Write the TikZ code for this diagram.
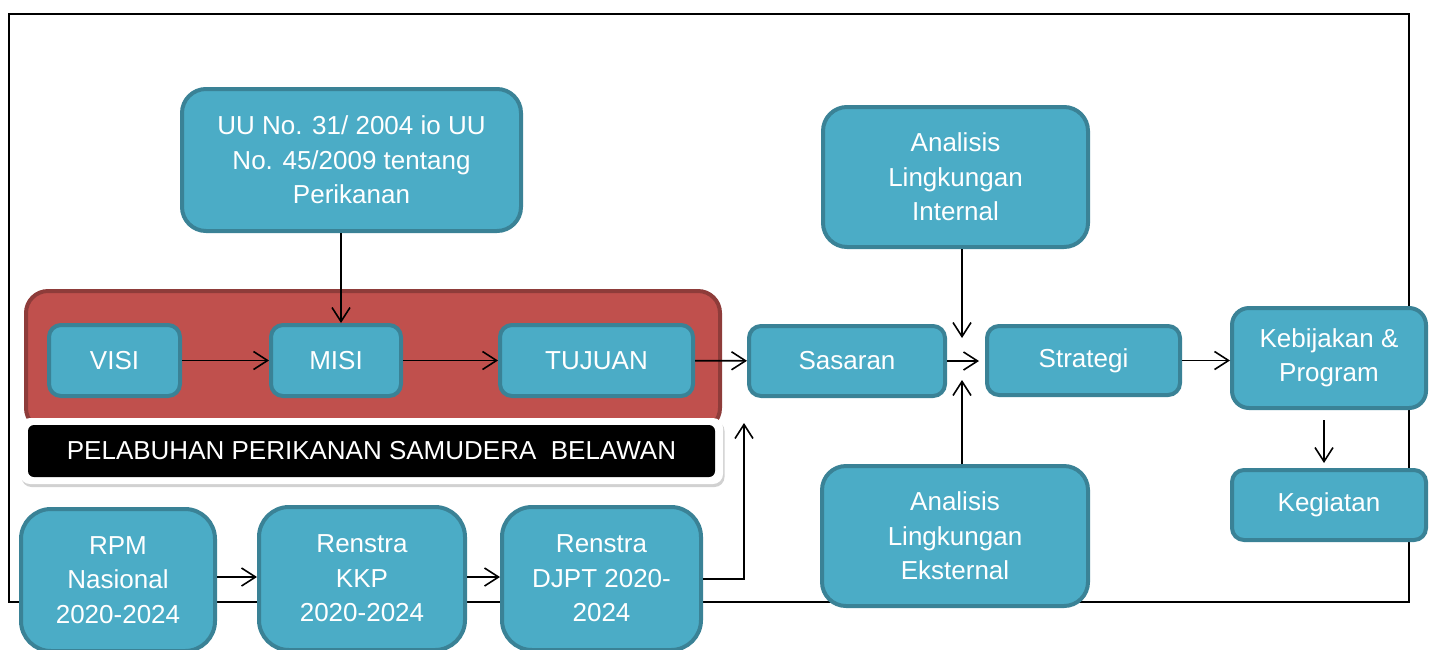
\documentclass[tikz,border=0pt]{standalone}
\usepackage{fontspec}
\setmainfont{Liberation Sans}
\usetikzlibrary{arrows.meta}
\definecolor{tealf}{HTML}{4BACC6}
\definecolor{tealb}{HTML}{3A8296}
\definecolor{redf}{HTML}{C0504D}
\definecolor{redb}{HTML}{8E3C3A}
\begin{document}
\begin{tikzpicture}[x=1pt,y=-1pt,
  box/.style={draw=tealb, fill=tealf, line width=4pt, text=white, align=center, inner sep=0pt, font=\fontsize{26}{34.5}\selectfont},
  arr/.style={line width=1.6pt, -{Straight Barb[length=14pt,width=18pt,line width=1.6pt]}}]
\useasboundingbox (0,0) rectangle (1431,649);
\clip (0,0) rectangle (1431,649);
% outer frame
\node[draw, line width=2pt, minimum width=1400pt, minimum height=588pt, inner sep=0pt] (frame) at (709,308) {};
% red group box
\node[draw=redb, fill=redf, line width=4pt, rounded corners=22pt, minimum width=694pt, minimum height=139pt, inner sep=0pt] (redbox) at (373,360.5) {};
% banner
\node[fill=black!18, rounded corners=10pt, minimum width=703pt, minimum height=66pt, inner sep=0pt] (bshadow) at (373,454) {};
\node[fill=white, rounded corners=10pt, minimum width=703pt, minimum height=66pt, inner sep=0pt] (bwhite) at (371.5,451) {};
\node[fill=black, rounded corners=6pt, minimum width=687pt, minimum height=52pt, inner sep=0pt, text=white, font=\fontsize{26}{30}\selectfont] (banner) at (371.5,451) {PELABUHAN PERIKANAN SAMUDERA\ \ BELAWAN};
% boxes
\node[box, rounded corners=24pt, minimum width=339pt, minimum height=142pt] (uu) at (351.5,160) {UU No. 31/ 2004 io UU\\No. 45/2009 tentang\\Perikanan};
\node[box, rounded corners=12pt, minimum width=131pt, minimum height=71pt] (visi) at (114.5,360.5) {VISI};
\node[box, rounded corners=12pt, minimum width=130pt, minimum height=71pt] (misi) at (336,360.5) {MISI};
\node[box, rounded corners=12pt, minimum width=193pt, minimum height=71pt] (tuj) at (596.5,360.5) {TUJUAN};
\node[box, rounded corners=12pt, minimum width=196pt, minimum height=70pt] (sas) at (847,361) {Sasaran};
\node[box, rounded corners=12pt, minimum width=193pt, minimum height=69pt] (strat) at (1083.5,360.5) {Strategi};
\node[box, rounded corners=24pt, minimum width=265pt, minimum height=140pt] (int) at (955.5,177) {Analisis\\Lingkungan\\Internal};
\node[box, rounded corners=24pt, minimum width=266pt, minimum height=140pt] (ext) at (955,536) {Analisis\\Lingkungan\\Eksternal};
\node[box, rounded corners=17pt, minimum width=194pt, minimum height=100pt] (keb) at (1329,358) {Kebijakan \&\\Program};
\node[box, rounded corners=12pt, minimum width=194pt, minimum height=70pt] (keg) at (1329,505) {Kegiatan};
\node[box, rounded corners=30pt, minimum width=194pt, minimum height=142pt] (rpm) at (118,580) {RPM\\Nasional\\2020-2024};
\node[box, rounded corners=30pt, minimum width=206pt, minimum height=143pt] (kkp) at (362,578.5) {Renstra\\KKP\\2020-2024};
\node[box, rounded corners=30pt, minimum width=199pt, minimum height=143pt] (djpt) at (601.5,578.5) {Renstra\\DJPT 2020-\\2024};
% helper coordinates
\coordinate (ux) at (341,0);
\coordinate (sin) at (979,361);
\coordinate (iend) at (962,338);
\coordinate (eend) at (962,380);
\coordinate (kx) at (1324,420);
\coordinate (ky) at (1324,463);
\coordinate (ry) at (0,577);
\coordinate (dy) at (0,579);
\coordinate (dup) at (744,423);
% connectors
\draw[arr] (uu.south -| ux) -- (misi.north -| ux);
\draw[arr] (visi) -- (misi);
\draw[arr] (misi) -- (tuj);
\draw[arr] (tuj) -- (sas);
\draw[arr] (sas.east) -- (sin);
\draw[arr] (int.south -| iend) -- (iend);
\draw[arr] (ext.north -| eend) -- (eend);
\draw[arr] (strat.east) -- (strat.east -| keb.west);
\draw[arr] (kx) -- (ky);
\draw[arr] (rpm.east |- ry) -- (kkp.west |- ry);
\draw[arr] (kkp.east |- ry) -- (djpt.west |- ry);
\draw[arr] (djpt.east |- dy) -| (dup);
\end{tikzpicture}
\end{document}
